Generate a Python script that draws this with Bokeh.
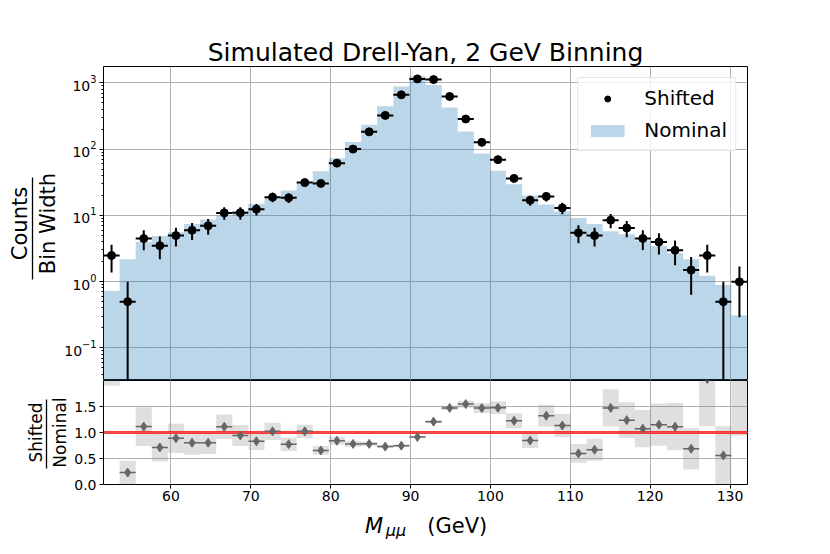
import numpy as np
from bokeh.plotting import figure
from bokeh.layouts import column
from bokeh.models import (Range1d, Legend, LegendItem, FixedTicker, LogTicker,
                          LinearAxis, LinearScale, CustomJSTickFormatter)
from bokeh.embed import file_html
from bokeh.resources import INLINE
from bokeh.core.properties import value

# ---------------- data ----------------
bin_edges = [51.55, 53.57, 55.58, 57.60, 59.61, 61.63, 63.65, 65.66, 67.68, 69.69,
             71.71, 73.73, 75.74, 77.76, 79.77, 81.79, 83.81, 85.82, 87.84, 89.85,
             91.87, 93.89, 95.90, 97.92, 99.93, 101.95, 103.97, 105.98, 108.00, 110.01,
             112.03, 114.05, 116.06, 118.08, 120.09, 122.11, 124.13, 126.14, 128.16, 130.17,
             132.19]
# shifted sample: raw counts per bin
shifted_counts = [5, 1, 9, 7, 10, 12, 14, 22, 22, 25,
                  38, 37, 63, 61, 124, 202, 366, 652, 1327, 2318,
                  2262, 1252, 575, 254, 140, 73, 34, 39, 26, 11,
                  10, 17, 13, 9, 8, 6, 3, 5, 1, 2]
# nominal: counts / bin width
nominal_density = [0.72, 2.17, 4.0, 4.89, 5.57, 7.4, 8.67, 9.8, 11.6, 14.9,
                   18.4, 23.8, 30.5, 46.3, 73, 128, 233, 443, 884, 1254,
                   927, 423, 184, 86, 47, 29.5, 20, 14.6, 11.4, 9.1,
                   7.4, 5.74, 5.2, 4.17, 3.44, 2.67, 2.17, 1.22, 0.89, 0.31]
x_ticks = [60, 70, 80, 90, 100, 110, 120, 130]
ratio_ticks = [0.0, 0.5, 1.0, 1.5]

edges = np.array(bin_edges)
left = edges[:-1]
right = edges[1:]
center = 0.5 * (left + right)
width = right - left
N = np.array(shifted_counts, dtype=float)
shifted = N / width
shifted_err = np.sqrt(N) / width
nominal = np.array(nominal_density)
ratio = shifted / nominal
ratio_err = ratio / np.sqrt(N)

FONT = "DejaVu Sans"
GRID = "#b0b0b0"
W = 814
BL, BR = 103, 67

x_range = Range1d(bin_edges[0], bin_edges[-1])


def label_axis(text, size, standoff, range_name, bounds=None, line=False):
    ax = LinearAxis(ticker=FixedTicker(ticks=[]), axis_label=text, y_range_name=range_name)
    ax.axis_label_text_font = FONT
    ax.axis_label_text_font_size = size
    ax.axis_label_text_font_style = "normal"
    ax.axis_label_text_color = "black"
    ax.axis_label_standoff = standoff
    ax.major_label_text_font_size = "0px"
    ax.major_label_standoff = 0
    ax.major_tick_out = 0
    ax.major_tick_in = 0
    ax.minor_tick_out = 0
    ax.minor_tick_in = 0
    ax.major_tick_line_color = None
    ax.minor_tick_line_color = None
    if bounds is not None:
        ax.bounds = bounds
    if line:
        ax.axis_line_color = "black"
        ax.axis_line_width = 1.3
    else:
        ax.axis_line_color = None
    return ax


# ---------------- top panel ----------------
p1 = figure(width=W, height=380, x_range=x_range, y_range=Range1d(0.0321, 1766),
            y_axis_type="log", output_backend="svg", toolbar_location=None,
            min_border_left=BL, min_border_right=BR, min_border_top=66, min_border_bottom=0,
            title="Simulated Drell-Yan, 2 GeV Binning")
p1.extra_y_ranges = {"lab": Range1d(0, 1)}
p1.extra_y_scales = {"lab": LinearScale()}
p1.title.text_font = FONT
p1.title.text_font_size = "25px"
p1.title.text_font_style = "normal"
p1.title.text_color = "black"
p1.title.align = "center"
p1.title.standoff = 0
p1.xaxis.visible = False
p1.outline_line_color = "black"
p1.outline_line_width = 1

p1.xgrid.ticker = FixedTicker(ticks=x_ticks)
p1.xgrid.grid_line_color = GRID
p1.ygrid.grid_line_color = GRID
p1.yaxis.ticker = LogTicker(num_minor_ticks=10)
p1.yaxis.major_label_text_font = FONT
p1.yaxis.major_label_text_font_size = "14px"
p1.yaxis.major_label_text_color = "black"
p1.yaxis.major_label_standoff = 3
p1.yaxis.axis_line_color = None
p1.yaxis.major_tick_line_color = "black"
p1.yaxis.minor_tick_line_color = "black"
p1.yaxis.major_tick_out = 4
p1.yaxis.major_tick_in = 0
p1.yaxis.minor_tick_out = 2
p1.yaxis.minor_tick_in = 0

hist = p1.quad(left=left, right=right, top=nominal, bottom=1e-3,
               fill_color="#1f77b4", fill_alpha=0.3, line_color=None)

lo = np.where(shifted - shifted_err <= 0, 1e-3, shifted - shifted_err)
p1.segment(x0=center, y0=lo, x1=center, y1=shifted + shifted_err,
           line_color="black", line_width=2)
p1.segment(x0=left, y0=shifted, x1=right, y1=shifted, line_color="black", line_width=2)
pts = p1.scatter(x=center, y=shifted, size=8, color="black")

legend = Legend(items=[LegendItem(label="Shifted", renderers=[pts]),
                       LegendItem(label="Nominal", renderers=[hist])],
                location="top_right")
legend.label_text_font = FONT
legend.label_text_font_size = "20px"
legend.label_text_color = "black"
legend.glyph_width = 42
legend.glyph_height = 15
legend.label_standoff = 16
legend.padding = 8
legend.spacing = 8
legend.margin = 11
legend.border_line_color = "#cccccc"
legend.background_fill_alpha = 0.8
p1.add_layout(legend)

# y label as a fraction: Counts / Bin Width
p1.add_layout(label_axis("Bin Width", "21px", 2, "lab"), "left")
p1.add_layout(label_axis("Counts", "21px", 1, "lab", bounds=(0.3217, 0.6475), line=True), "left")

# ---------------- bottom panel ----------------
p2 = figure(width=W, height=126, x_range=x_range, y_range=Range1d(0, 2.0),
            output_backend="svg", toolbar_location=None,
            min_border_left=BL, min_border_right=BR, min_border_top=0, min_border_bottom=22)
p2.extra_y_ranges = {"lab": Range1d(0, 2.0)}
p2.extra_y_scales = {"lab": LinearScale()}
p2.outline_line_color = "black"
p2.outline_line_width = 1
p2.xaxis.ticker = FixedTicker(ticks=x_ticks)
p2.yaxis.ticker = FixedTicker(ticks=ratio_ticks)
p2.xgrid.ticker = FixedTicker(ticks=x_ticks)
p2.ygrid.ticker = FixedTicker(ticks=ratio_ticks)
p2.xgrid.grid_line_color = GRID
p2.ygrid.grid_line_color = GRID
for ax in (p2.xaxis, p2.yaxis):
    ax.major_label_text_font = FONT
    ax.major_label_text_font_size = "14px"
    ax.major_label_text_color = "black"
    ax.axis_line_color = None
    ax.major_tick_line_color = "black"
    ax.minor_tick_line_color = None
    ax.major_tick_out = 4
    ax.major_tick_in = 0
p2.xaxis.major_label_standoff = 2
p2.yaxis.major_label_standoff = 3
p2.yaxis.formatter = CustomJSTickFormatter(code="return tick.toFixed(1);")

p2.quad(left=left, right=right, bottom=ratio - ratio_err, top=ratio + ratio_err,
        fill_color="gray", fill_alpha=0.25, line_color=None)
p2.varea(x=[bin_edges[0], bin_edges[-1]], y1=[0.986, 0.986], y2=[1.014, 1.014],
         fill_color="#ff8080", fill_alpha=0.8)
p2.line(x=[bin_edges[0], bin_edges[-1]], y=[0.986, 0.986], line_color="red", line_width=1)
p2.line(x=[bin_edges[0], bin_edges[-1]], y=[1.014, 1.014], line_color="red", line_width=1)
p2.segment(x0=left, y0=ratio, x1=right, y1=ratio, line_color="#666666", line_width=1.5)
p2.scatter(x=center, y=ratio, marker="diamond", size=9, color="#666666")

p2.add_layout(label_axis("Nominal", "17px", 2, "lab"), "left")
p2.add_layout(label_axis("Shifted", "17px", 1, "lab", bounds=(0.31, 1.63), line=True), "left")

# ---------------- x label strip ----------------
p3 = figure(width=W, height=40, x_range=x_range, y_range=Range1d(0, 40),
            output_backend="svg", toolbar_location=None,
            x_axis_location=None, y_axis_location=None,
            min_border_left=BL, min_border_right=BR, min_border_top=0, min_border_bottom=0)
p3.grid.visible = False
p3.outline_line_color = None
p3.text(x=[84.3], y=[21], text=["M"], text_font=value(FONT), text_font_style="italic",
        text_font_size="21px", text_baseline="alphabetic", text_align="left", text_color="black")
p3.text(x=[86.9], y=[16.5], text=["μμ"], text_font=value(FONT), text_font_style="italic",
        text_font_size="16px", text_baseline="alphabetic", text_align="left", text_color="black")
p3.text(x=[92.1], y=[21], text=["(GeV)"], text_font=value(FONT),
        text_font_size="21px", text_baseline="alphabetic", text_align="left", text_color="black")

layout = column(p1, p2, p3, spacing=0)
open("out.html", "w").write(file_html(layout, INLINE))
